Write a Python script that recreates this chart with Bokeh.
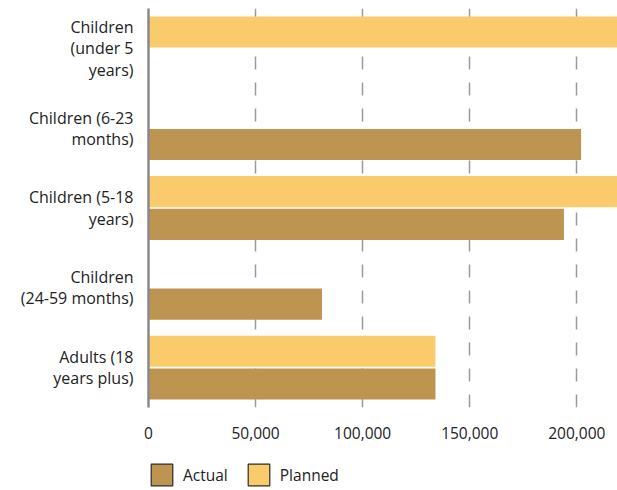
from bokeh.plotting import figure
from bokeh.layouts import column
from bokeh.models import (ColumnDataSource, FactorRange, Range1d, FixedTicker,
                          NumeralTickFormatter, Legend, LegendItem)
from bokeh.transform import dodge
from bokeh.embed import file_html
from bokeh.resources import INLINE

nan = float("nan")

categories = ["Children\n(under 5\nyears)", "Children (6-23\nmonths)",
              "Children (5-18\nyears)", "Children\n(24-59 months)",
              "Adults (18\nyears plus)"]
planned = [240000, nan, 240000, nan, 134000]
actual = [nan, 202000, 194000, 81000, 134000]
x_ticks = [0, 50000, 100000, 150000, 200000]
series_names = ["Actual", "Planned"]

ACTUAL_C = "#BE9550"
PLANNED_C = "#F9CB6A"
FONT = "Open Sans"
TEXT_C = "#222222"

src = ColumnDataSource(dict(cat=categories, planned=planned, actual=actual))

p = figure(y_range=FactorRange(factors=categories[::-1]),
           x_range=Range1d(0, 219000),
           width=617, height=450, output_backend="svg", toolbar_location=None,
           min_border_left=148, min_border_right=0, min_border_top=8,
           min_border_bottom=43)
p.outline_line_color = None

p.hbar(y=dodge("cat", 0.205, range=p.y_range), right="planned", left=0,
       height=0.39, source=src, fill_color=PLANNED_C, line_color=None)
p.hbar(y=dodge("cat", -0.205, range=p.y_range), right="actual", left=0,
       height=0.39, source=src, fill_color=ACTUAL_C, line_color=None)

# axes
p.xaxis.ticker = FixedTicker(ticks=x_ticks)
p.xaxis.formatter = NumeralTickFormatter(format="0,0")
p.xaxis.axis_line_color = None
p.xaxis.major_tick_line_color = None
p.xaxis.minor_tick_line_color = None
p.xaxis.major_tick_out = 0
p.xaxis.major_label_standoff = 19
p.xaxis.major_label_text_font = FONT
p.xaxis.major_label_text_font_size = "15.5px"
p.xaxis.major_label_text_color = TEXT_C

p.yaxis.axis_line_color = "#8a8a8a"
p.yaxis.axis_line_width = 2.5
p.yaxis.major_tick_line_color = None
p.yaxis.minor_tick_line_color = None
p.yaxis.major_tick_out = 0
p.yaxis.major_label_standoff = 15
p.yaxis.major_label_text_font = FONT
p.yaxis.major_label_text_font_size = "16px"
p.yaxis.major_label_text_color = TEXT_C
p.yaxis.major_label_text_line_height = 0.97

p.ygrid.grid_line_color = None
p.xgrid.ticker = FixedTicker(ticks=x_ticks[1:])
p.xgrid.grid_line_color = "#9a9a9a"
p.xgrid.grid_line_width = 1.5
p.xgrid.grid_line_dash = "13 13"

# legend in its own strip below the chart
lg = figure(width=617, height=40, output_backend="svg", toolbar_location=None,
            x_axis_type=None, y_axis_type=None,
            min_border_left=147, min_border_right=0, min_border_top=11,
            min_border_bottom=0, x_range=Range1d(0, 1), y_range=Range1d(0, 1))
lg.outline_line_color = None
lg.grid.visible = False
# legend-only renderers: one point each, placed outside the visible range
leg_a = lg.rect(x=[5], y=[5], width=1, height=1, fill_color=ACTUAL_C,
                line_color="#2a2a2a", line_width=1.2)
leg_p = lg.rect(x=[5], y=[5], width=1, height=1, fill_color=PLANNED_C,
                line_color="#2a2a2a", line_width=1.2)
legend = Legend(items=[LegendItem(label=series_names[0], renderers=[leg_a]),
                       LegendItem(label=series_names[1], renderers=[leg_p])],
                location="top_left", orientation="horizontal",
                padding=0, margin=0, spacing=17, label_standoff=8,
                glyph_width=27, glyph_height=27,
                border_line_alpha=0, background_fill_alpha=0,
                label_text_font=FONT, label_text_font_size="15.5px",
                label_text_color=TEXT_C)
lg.add_layout(legend)

layout = column(p, lg, spacing=0)
open("out.html", "w").write(file_html(layout, INLINE))
